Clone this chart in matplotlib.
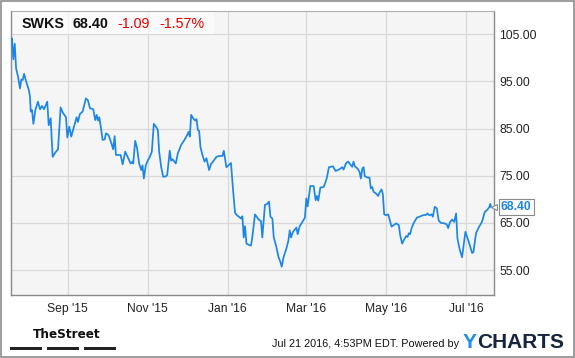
import matplotlib
matplotlib.use("Agg")
import matplotlib.pyplot as plt
import matplotlib.dates as mdates
from matplotlib.patches import Rectangle
import numpy as np
import pandas as pd

# ---------------- data ----------------
start_date = "2015-07-20"
day_offset = [0.0, 0.5, 1.5, 2.6, 3.6, 5.1, 6.6, 7.6, 8.7, 9.7, 11.4, 13.3, 14.2, 14.8, 15.8, 16.8,
              18.3, 20.3, 21.9, 23.4, 24.9, 27.4, 28.5, 30.0, 31.5, 33.5, 35.6, 37.6, 39.2, 41.7,
              42.7, 44.2, 45.7, 47.8, 49.8, 50.8, 52.3, 54.4, 56.9, 58.4, 60.0, 62.5, 64.0, 65.1,
              66.1, 67.1, 68.6, 69.6, 71.2, 72.2, 74.2, 76.2, 77.7, 78.8, 79.8, 81.3, 83.4, 84.9,
              86.9, 89.5, 91.0, 92.5, 93.0, 94.5, 96.0, 97.5, 99.1, 100.1, 101.1, 102.6, 104.2,
              105.7, 107.2, 108.7, 110.3, 111.8, 112.8, 114.3, 115.8, 117.3, 118.9, 120.9, 121.9,
              123.0, 125.5, 127.0, 129.5, 132.1, 134.1, 135.2, 136.2, 137.2, 138.7, 140.2, 141.3,
              142.3, 143.3, 144.3, 145.8, 147.4, 148.9, 150.9, 152.4, 153.9, 156.5, 159.0, 161.1,
              162.1, 164.1, 166.1, 167.6, 169.2, 170.7, 172.2, 173.7, 175.3, 176.3, 177.3, 178.3,
              179.4, 181.4, 182.9, 183.9, 185.9, 189.0, 190.5, 191.5, 193.5, 195.1, 196.6, 197.7,
              199.2, 200.2, 202.2, 203.8, 205.3, 206.3, 207.8, 209.9, 211.4, 212.4, 213.4, 214.9,
              217.5, 218.5, 220.0, 222.1, 224.0, 225.1, 226.1, 228.1, 230.7, 232.2, 233.2, 234.2,
              235.8, 238.3, 239.8, 240.8, 242.3, 245.4, 247.4, 249.9, 252.5, 253.5, 255.5, 257.1,
              259.1, 260.1, 261.1, 262.1, 264.2, 265.7, 266.7, 267.8, 268.8, 269.7, 271.8, 273.3,
              274.3, 275.4, 276.4, 278.4, 279.9, 280.9, 282.5, 283.5, 284.5, 286.0, 287.6, 289.1,
              290.1, 291.6, 293.7, 295.7, 296.7, 298.2, 299.8, 301.3, 302.3, 303.3, 304.3, 305.3,
              306.9, 309.4, 311.4, 313.9, 316.5, 317.5, 319.1, 320.6, 321.6, 323.1, 324.6, 326.1,
              327.7, 330.3, 332.2, 333.3, 334.8, 336.3, 337.9, 339.4, 340.4, 341.9, 343.9, 346.5,
              349.0, 351.6, 352.6, 354.6, 356.6, 358.7, 359.7, 361.2, 363.3, 364.8, 365.5, 366.0]
price = [103.8, 104.1, 99.7, 103.0, 97.8, 96.0, 93.5, 95.4, 95.3, 96.6, 94.9, 93.2, 91.8, 88.6, 88.9, 86.0,
         88.9, 90.7, 89.1, 89.8, 89.1, 90.7, 85.7, 87.2, 79.0, 79.9, 80.6, 89.5, 88.4, 87.4,
         83.1, 85.4, 83.3, 85.4, 87.4, 86.4, 88.1, 88.6, 91.4, 91.0, 89.3, 89.1, 86.8, 87.9,
         86.7, 87.4, 84.7, 82.6, 82.7, 84.0, 83.6, 82.0, 80.6, 83.4, 79.4, 79.4, 79.4, 77.4,
         80.1, 78.5, 77.6, 78.0, 77.6, 82.4, 80.8, 77.6, 76.2, 77.2, 74.4, 77.2, 78.3,
         79.0, 80.1, 86.0, 85.4, 84.7, 80.1, 76.9, 74.8, 74.8, 75.1, 80.3, 78.2,
         78.5, 77.6, 79.7, 81.5, 82.6, 83.6, 84.3, 83.3, 87.9, 87.2, 86.7, 87.0,
         84.7, 84.5, 81.1, 79.4, 78.0, 78.7, 76.2, 77.5, 78.0, 79.0, 79.2, 79.2,
         80.3, 76.8, 77.3, 77.7, 71.9, 67.1, 66.6, 66.3, 65.9, 66.4, 61.9, 64.3,
         60.6, 60.3, 60.2, 62.0, 66.8, 65.6, 65.4, 61.9, 68.8, 69.0, 69.5, 66.3,
         65.9, 62.0, 59.9, 57.8, 56.7, 55.7, 57.8, 59.6, 61.2, 63.4, 61.9, 63.1,
         64.0, 62.6, 64.3, 65.2, 66.1, 70.2, 68.5, 72.8, 72.8, 69.8, 70.7, 69.7,
         72.5, 72.6, 73.7, 74.6, 76.8, 77.0, 76.0, 76.3, 76.8, 76.3, 77.7, 78.0,
         77.2, 76.9, 78.0, 77.0, 76.5, 75.8, 74.4, 76.5, 76.8, 74.9, 74.6, 74.6,
         72.3, 72.6, 71.6, 71.2, 70.7, 71.4, 72.1, 71.1, 66.8, 66.6, 66.8, 65.2,
         64.2, 64.5, 64.9, 64.5, 62.4, 60.6, 61.5, 62.2, 62.0, 62.8, 62.6, 63.8,
         64.9, 66.1, 66.3, 66.6, 66.7, 67.0, 66.6, 66.8, 66.3, 68.4, 68.1, 65.5,
         65.0, 64.9, 64.7, 63.9, 65.2, 65.7, 65.2, 67.0, 61.7, 59.6, 57.7, 63.1,
         61.0, 58.6, 58.8, 62.8, 64.0, 65.0, 65.7, 67.3, 67.8, 68.4, 69.0, 68.40]
y_ticks = [55, 65, 75, 85, 95, 105]
ticker = "SWKS"
last_price = "68.40"
change = "-1.09"
change_pct = "-1.57%"
timestamp = "Jul 21 2016, 4:53PM EDT."

# ---------------- style ----------------
LINE = "#1a87e6"
FONT = "Liberation Sans"
plt.rcParams["font.family"] = [FONT, "DejaVu Sans"]

W, H = 575, 358
fig = plt.figure(figsize=(W / 100, H / 100), dpi=100)
fig.patch.set_facecolor("white")

L, R, T, B = 10.7, 494, 10.7, 295
ax = fig.add_axes([L / W, 1 - B / H, (R - L) / W, (B - T) / H])
ax.set_facecolor("#f5f5f5")

base = mdates.date2num(pd.Timestamp(start_date))
x = base + np.array(day_offset)
ax.plot(x, price, color=LINE, lw=1.25, solid_joinstyle="round", zorder=3)

ax.set_xlim(base - 0.5, base + 368.3)
ax.set_ylim(49.7, 110.0)

ax.xaxis.set_major_locator(mdates.MonthLocator(bymonth=[1, 3, 5, 7, 9, 11]))
ax.xaxis.set_major_formatter(mdates.DateFormatter("%b '%y"))
ax.set_yticks(y_ticks)
ax.set_yticklabels([f"{v:.2f}" for v in y_ticks])
ax.yaxis.tick_right()
ax.tick_params(axis="both", length=0, labelsize=8.7, colors="#222222")
ax.tick_params(axis="y", pad=4)
ax.tick_params(axis="x", pad=6)
ax.grid(True, color="#d9d9d9", lw=0.9, zorder=0)
ax.set_axisbelow(True)
for s in ["left", "bottom", "right"]:
    ax.spines[s].set_color("#8a8a8a")
    ax.spines[s].set_linewidth(1.0)
ax.spines["top"].set_color("#b0b0b0")
ax.spines["top"].set_linewidth(0.8)

# header box
ax.add_patch(Rectangle((0, (B - 34.0) / (B - T)), (214 - L) / (R - L), (34.0 - T) / (B - T),
                       transform=ax.transAxes, facecolor="white", alpha=0.6,
                       edgecolor="none", zorder=2))
hy = 1 - (23.5 - T) / (B - T)
def hx(px):
    return (px - L) / (R - L)
ax.text(hx(21.5), hy, ticker, transform=ax.transAxes, fontsize=10.3, fontweight="bold",
        color="#111111", va="center", ha="left", zorder=4)
ax.text(hx(72.5), hy, last_price, transform=ax.transAxes, fontsize=10.3, fontweight="bold",
        color="#111111", va="center", ha="left", zorder=4)
ax.text(hx(117), hy, change, transform=ax.transAxes, fontsize=10.3,
        color="#e60000", va="center", ha="left", zorder=4)
ax.text(hx(159), hy, change_pct, transform=ax.transAxes, fontsize=10.3,
        color="#e60000", va="center", ha="left", zorder=4)

# last price tag
ax.annotate(last_price, xy=(1.0, price[-1]), xycoords=("axes fraction", "data"),
            xytext=(5, 0), textcoords="offset points", fontsize=8.7, fontweight="bold",
            color=LINE, va="center", ha="left", annotation_clip=False,
            bbox=dict(boxstyle="square,pad=0.18", facecolor="white", edgecolor="#8a8a8a", lw=0.8))
ax.plot([1.0], [price[-1]], marker="<", ms=4, color="#8a8a8a", transform=ax.get_yaxis_transform(),
        clip_on=False, zorder=5, mfc="white", mew=0.8)

# footer
fig.text(33 / W, 1 - 334 / H, "TheStreet", fontsize=9.6, fontweight="bold", color="#111111",
         va="center", ha="left", fontstretch="condensed", family=["DejaVu Sans"])
for x0 in [10, 47, 84]:
    fig.patches.append(Rectangle((x0 / W, 1 - 350 / H), 32 / W, 3.2 / H, transform=fig.transFigure,
                                 facecolor="#222222", edgecolor="none"))
fig.text(459 / W, 1 - 344 / H, timestamp + " Powered by", fontsize=7.8, color="#111111",
         va="center", ha="right")
fig.text(463 / W, 1 - 342 / H, "Y", fontsize=15, fontweight="bold", color="#1c8ef0",
         va="center", ha="left")
fig.text(477 / W, 1 - 342 / H, "CHARTS", fontsize=15, fontweight="bold", color="#15253f",
         va="center", ha="left")

# outer frame
fig.patches.append(Rectangle((0.6 / W, 0.6 / H), (W - 1.6) / W, (H - 1.6) / H, transform=fig.transFigure,
                             facecolor="none", edgecolor="#8c8c8c", lw=1.2))

fig.savefig("out.png", dpi=100, facecolor="white")
